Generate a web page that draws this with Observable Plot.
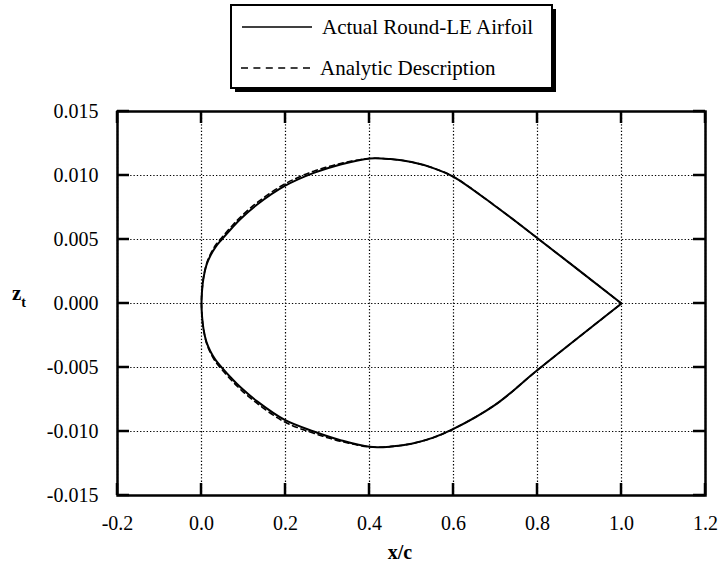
<!DOCTYPE html>
<html>
<head>
<meta charset="utf-8">
<script src="https://cdn.jsdelivr.net/npm/d3@7"></script>
<script src="https://cdn.jsdelivr.net/npm/@observablehq/plot@0.6"></script>
<style>
  body { margin: 0; background: #fff; }
  #wrap { position: relative; width: 718px; height: 569px; font-family: "Liberation Serif", "Times New Roman", serif; }
  #wrap > svg { position: absolute; left: 0; top: 0; }
  #overlay { pointer-events: none; }
</style>
</head>
<body>
<div id="wrap"></div>
<script>
// Round-leading-edge airfoil thickness distribution z_t(x/c)
const xStations   = [0.0000, 0.0012, 0.0048, 0.0119, 0.0214, 0.0333, 0.049, 0.0714, 0.0929, 0.1326, 0.1983, 0.2674, 0.331, 0.400, 0.450, 0.500, 0.550, 0.600, 0.700, 0.800, 1.000];
const zActualUp   = [0.0000, 0.00096, 0.00200, 0.00302, 0.00375, 0.00441, 0.00503, 0.00586, 0.00660, 0.00773, 0.00918, 0.01020, 0.01086, 0.01133, 0.01128, 0.01105, 0.01060, 0.00990, 0.00760, 0.00510, 0.0000];
const zActualLow  = [0.0000, -0.00096, -0.00200, -0.00302, -0.00375, -0.00441, -0.00503, -0.00584, -0.00655, -0.00765, -0.00910, -0.01000, -0.01068, -0.01120, -0.01118, -0.01095, -0.01050, -0.00980, -0.00790, -0.00520, 0.0000];
// analytic fit: slightly fuller over the forward part of the section
const zAnalyticUp  = [0.0000, 0.00096, 0.00202, 0.00309, 0.00386, 0.00455, 0.00518, 0.00602, 0.00676, 0.00789, 0.00934, 0.01034, 0.01094, 0.01133, 0.01128, 0.01105, 0.01060, 0.00990, 0.00760, 0.00510, 0.0000];
const zAnalyticLow = [0.0000, -0.00096, -0.00202, -0.00309, -0.00386, -0.00455, -0.00518, -0.00600, -0.00671, -0.00781, -0.00926, -0.01014, -0.01076, -0.01120, -0.01118, -0.01095, -0.01050, -0.00980, -0.00790, -0.00520, 0.0000];

const xTicks = [-0.2, 0.0, 0.2, 0.4, 0.6, 0.8, 1.0, 1.2];
const yTicks = [-0.015, -0.010, -0.005, 0.000, 0.005, 0.010, 0.015];

// one open outline per series: trailing edge -> upper surface -> leading edge -> lower surface -> trailing edge
function outline(up, low) {
  const pts = [];
  for (let i = xStations.length - 1; i >= 0; i--) pts.push({x: xStations[i], z: up[i]});
  for (let i = 1; i < xStations.length; i++) pts.push({x: xStations[i], z: low[i]});
  return pts;
}
const actual = outline(zActualUp, zActualLow);
const analytic = outline(zAnalyticUp, zAnalyticLow);

// layout
const W = 718, H = 569, mL = 117, mR = 13, mT = 111, mB = 74;
const xDomain = [-0.2, 1.2], yDomain = [-0.015, 0.015];
const tickPx = 12;

const chart = Plot.plot({
  width: W,
  height: H,
  marginLeft: mL,
  marginRight: mR,
  marginTop: mT,
  marginBottom: mB,
  style: {fontFamily: "Liberation Serif, Times New Roman, serif", fontSize: "20px", color: "black", background: "transparent"},
  x: {domain: xDomain},
  y: {domain: yDomain},
  marks: [
    Plot.gridX(xTicks, {stroke: "black", strokeOpacity: 1, strokeWidth: 1.2, strokeDasharray: "1.3,2"}),
    Plot.gridY(yTicks, {stroke: "black", strokeOpacity: 1, strokeWidth: 1.2, strokeDasharray: "1.3,2"}),
    Plot.line(analytic, {x: "x", y: "z", curve: "catmull-rom", stroke: "black", strokeWidth: 1.6, strokeDasharray: "5,4"}),
    Plot.line(actual, {x: "x", y: "z", curve: "catmull-rom", stroke: "black", strokeWidth: 2}),
    Plot.frame({stroke: "black", strokeWidth: 2.5}),
    // tick labels
    Plot.axisX(xTicks, {anchor: "bottom", tickSize: 0, tickPadding: 20, label: null, tickFormat: d => d.toFixed(1)}),
    Plot.axisY(yTicks, {anchor: "left", tickSize: 0, tickPadding: 19, label: null, tickFormat: d => d.toFixed(3)})
  ]
});

const wrap = document.getElementById("wrap");
wrap.appendChild(chart);

// inward frame ticks placed with the chart's own scales
const sx = chart.scale("x"), sy = chart.scale("y");
const x0 = mL, x1 = W - mR, y0 = mT, y1 = H - mB;
let ticksSvg = "";
for (const v of xTicks) {
  const px = sx.apply(v);
  ticksSvg += `<line x1="${px}" y1="${y1}" x2="${px}" y2="${y1 - tickPx}"/>`;
  ticksSvg += `<line x1="${px}" y1="${y0}" x2="${px}" y2="${y0 + tickPx}"/>`;
}
for (const v of yTicks) {
  const py = sy.apply(v);
  ticksSvg += `<line x1="${x0}" y1="${py}" x2="${x0 + tickPx}" y2="${py}"/>`;
  ticksSvg += `<line x1="${x1}" y1="${py}" x2="${x1 - tickPx}" y2="${py}"/>`;
}

// legend box with drop shadow, axis titles and frame ticks
const ns = "http://www.w3.org/2000/svg";
const ov = document.createElementNS(ns, "svg");
ov.setAttribute("id", "overlay");
ov.setAttribute("width", W);
ov.setAttribute("height", H);
ov.innerHTML = `
  <g stroke="black" stroke-width="2.5">${ticksSvg}</g>
  <rect x="235" y="9" width="321" height="83" fill="black"/>
  <rect x="231" y="5" width="321" height="83" fill="white" stroke="black" stroke-width="2"/>
  <line x1="242" y1="27" x2="312" y2="27" stroke="black" stroke-width="1.6"/>
  <text x="322" y="34" font-size="21" fill="black">Actual Round-LE Airfoil</text>
  <line x1="241" y1="68" x2="311" y2="68" stroke="black" stroke-width="1.6" stroke-dasharray="7,5.4"/>
  <text x="320" y="75" font-size="21" fill="black">Analytic Description</text>
  <text x="400" y="559" font-size="20" font-weight="bold" text-anchor="middle" fill="black">x/c</text>
  <text x="12" y="300" font-size="21" font-weight="bold" fill="black">z<tspan font-size="14" dy="7">t</tspan></text>
`;
wrap.appendChild(ov);
</script>
</body>
</html>
